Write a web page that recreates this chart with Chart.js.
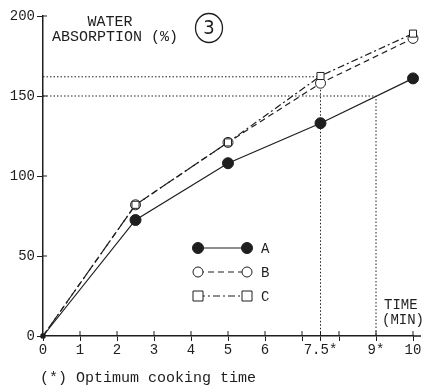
<!DOCTYPE html>
<html>
<head>
<meta charset="utf-8">
<script src="https://cdn.jsdelivr.net/npm/chart.js@4.4.1/dist/chart.umd.min.js"></script>
<style>
  html, body { margin: 0; padding: 0; background: #fff; }
  #wrap { width: 426px; height: 385px; position: relative; }
</style>
</head>
<body>
<div id="wrap"><canvas id="absorption"></canvas></div>
<script>
// cooking time (min) and water absorption (%)
var times = [0, 2.5, 5, 7.5, 10];
var seriesA = [0, 72.5, 108, 133, 161];
var seriesB = [0, 82, 121, 158, 186];
var seriesC = [0, 82, 121, 162.5, 189];
var seriesNames = ["A", "B", "C"];

var xTicks = [0, 1, 2, 3, 4, 5, 6, 7, 7.5, 8, 9, 10];
var xTickLabels = ["0", "1", "2", "3", "4", "5", "6", "", "7.5*", "", "9*", "10"];
var yTicks = [0, 50, 100, 150, 200];

// optimum cooking points (dotted guides)
var optTimes = [7.5, 9];
var optLevels = [162, 150];

var ink = "#1e1e1e";
var mono = "'Liberation Mono', 'Courier New', monospace";

function pts(ys) {
  return times.map(function (t, i) { return { x: t, y: ys[i] }; });
}

function guide(i) {
  return {
    data: [{ x: 0, y: optLevels[i] }, { x: optTimes[i], y: optLevels[i] }, { x: optTimes[i], y: 0 }],
    borderColor: ink,
    borderWidth: 1,
    borderDash: [1.5, 2],
    pointRadius: 0,
    fill: false,
    tension: 0,
    order: 5,
  };
}

var styles = [
  { dash: [], point: "circle", fill: ink },
  { dash: [6, 4], point: "circle", fill: "#fff" },
  { dash: [7, 3, 2, 3], point: "rect", fill: "#fff" },
];

function series(ys, k) {
  return {
    data: pts(ys),
    borderColor: ink,
    borderWidth: 1.2,
    borderDash: styles[k].dash,
    pointStyle: function (c) { return c.dataIndex === 0 ? "rect" : styles[k].point; },
    pointRadius: function (c) { return c.dataIndex === 0 ? 2.5 : (k === 0 ? 5.5 : 5); },
    pointBackgroundColor: function (c) { return c.dataIndex === 0 ? ink : styles[k].fill; },
    pointBorderColor: ink,
    pointBorderWidth: 1,
    fill: false,
    tension: 0,
    clip: false,
    order: 2 - k,
  };
}

// extra text, inside ticks and the legend
var decor = {
  id: "decor",
  afterDraw: function (chart) {
    var c = chart.ctx, xs = chart.scales.x, ys = chart.scales.y;
    c.save();
    c.strokeStyle = ink;
    c.fillStyle = ink;
    c.lineWidth = 1;
    // inner half of tick marks
    c.beginPath();
    xTicks.forEach(function (v) {
      if (v === 0) return;
      var px = xs.getPixelForValue(v);
      c.moveTo(px, ys.bottom); c.lineTo(px, ys.bottom - 5);
    });
    yTicks.forEach(function (v) {
      if (v === 0) return;
      var py = ys.getPixelForValue(v);
      c.moveTo(xs.left, py); c.lineTo(xs.left + 4, py);
    });
    c.stroke();
    // axis runs a little past 10
    c.lineWidth = 1.5;
    c.beginPath();
    c.moveTo(xs.right, ys.bottom); c.lineTo(xs.right + 8, ys.bottom);
    c.stroke();

    c.font = "15px " + mono;
    c.textAlign = "center";
    c.textBaseline = "middle";
    c.fillText("WATER", 110, 22);
    c.fillText("ABSORPTION (%)", 115, 37);

    c.lineWidth = 1.3;
    c.beginPath();
    c.ellipse(209, 28, 13.5, 14.5, 0, 0, Math.PI * 2);
    c.stroke();
    c.font = "20px 'Liberation Sans Narrow', 'DejaVu Sans Condensed', sans-serif";
    c.fillText("3", 209, 29);

    c.font = "14px " + mono;
    c.textAlign = "left";
    c.fillText("TIME", 384, 305);
    c.fillText("(MIN)", 382, 320);

    c.font = "15px " + mono;
    c.fillText("(*) Optimum cooking time", 40, 378);

    // legend
    var rowY = [248, 272, 296];
    var x1 = 198, x2 = 247;
    seriesNames.forEach(function (name, k) {
      var y = rowY[k];
      c.lineWidth = 1.2;
      c.setLineDash(styles[k].dash);
      c.beginPath();
      c.moveTo(x1, y); c.lineTo(x2, y);
      c.stroke();
      c.setLineDash([]);
      c.lineWidth = 1;
      [x1, x2].forEach(function (px) {
        c.fillStyle = styles[k].fill;
        c.beginPath();
        if (styles[k].point === "rect") c.rect(px - 5, y - 5, 10, 10);
        else c.arc(px, y, k === 0 ? 5.5 : 5, 0, Math.PI * 2);
        c.fill();
        c.stroke();
      });
      c.fillStyle = ink;
      c.font = "14px " + mono;
      c.fillText(name, 261, y + 1);
    });
    c.restore();
  },
};

var ctx = document.getElementById("absorption").getContext("2d");

new Chart(ctx, {
  type: "line",
  data: {
    datasets: [
      guide(0),
      guide(1),
      series(seriesA, 0),
      series(seriesB, 1),
      series(seriesC, 2),
    ],
  },
  options: {
    responsive: true,
    maintainAspectRatio: false,
    animation: false,
    layout: { padding: { top: 16, right: 13, bottom: 0, left: 0 } },
    plugins: { legend: { display: false }, tooltip: { enabled: false } },
    scales: {
      x: {
        type: "linear",
        min: 0,
        max: 10,
        afterBuildTicks: function (s) { s.ticks = xTicks.map(function (v) { return { value: v }; }); },
        afterFit: function (s) { s.height = 49; },
        grid: { display: true, drawOnChartArea: false, drawTicks: true, tickLength: 5, color: ink },
        border: { display: true, color: ink, width: 1.5 },
        ticks: {
          color: ink,
          padding: 1,
          maxRotation: 0,
          autoSkip: false,
          font: { family: mono, size: 14 },
          callback: function (v) { var i = xTicks.indexOf(v); return i < 0 ? "" : xTickLabels[i]; },
        },
      },
      y: {
        type: "linear",
        min: 0,
        max: 200,
        afterBuildTicks: function (s) { s.ticks = yTicks.map(function (v) { return { value: v }; }); },
        afterFit: function (s) { s.width = 43; },
        grid: { display: true, drawOnChartArea: false, drawTicks: true, tickLength: 6, color: ink },
        border: { display: true, color: ink, width: 1.5 },
        ticks: { color: ink, padding: 2, font: { family: mono, size: 14 } },
      },
    },
  },
  plugins: [decor],
});
</script>
</body>
</html>
